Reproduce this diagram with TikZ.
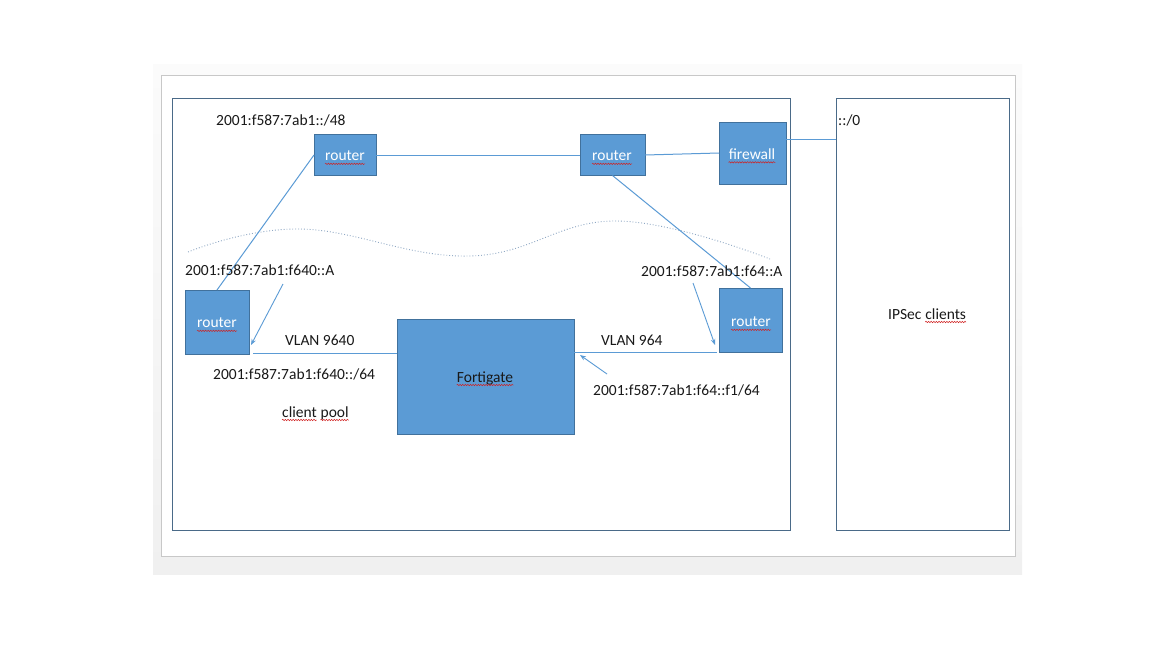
\documentclass[tikz,border=0pt]{standalone}
\usepackage{fontspec}
\setmainfont{Carlito}
\usetikzlibrary{arrows.meta,decorations.pathmorphing}
\definecolor{boxfill}{HTML}{5B9BD5}
\definecolor{boxedge}{HTML}{41719C}
\definecolor{frameedge}{HTML}{4A6A88}
\definecolor{pageedge}{HTML}{C8C8C8}
\definecolor{bggrey}{HTML}{F0F0F0}
\definecolor{bgtop}{HTML}{FBFBFB}
\definecolor{wavecol}{HTML}{8FA8C4}
\definecolor{squigcol}{HTML}{D02020}
\tikzset{
  devbox/.style={draw=boxedge, fill=boxfill, line width=0.9pt, inner sep=0pt, outer sep=0pt},
  framebox/.style={draw=frameedge, line width=1pt, inner sep=0pt, outer sep=0pt},
  conn/.style={draw=boxfill, line width=1pt},
  arr/.style={draw=boxfill, line width=0.9pt, -{Stealth[length=6pt,width=4.5pt]}},
  lbl/.style={font=\fontsize{15.5}{18}\selectfont, text=black!90, inner sep=0pt},
  wlbl/.style={font=\fontsize{15.5}{18}\selectfont, text=white, inner sep=0pt},
  squig/.style={draw=squigcol, line width=0.5pt, decorate, decoration={snake, amplitude=0.7pt, segment length=2.6pt}},
}
\newcommand{\squigunder}[1]{\draw[squig] ([yshift=-3pt]#1.base west) -- ([yshift=-3pt]#1.base east);}
\begin{document}
\begin{tikzpicture}[x=1pt,y=-1pt]
\useasboundingbox (0,0) rectangle (1152,648);
\fill[white] (0,0) rectangle (1152,648);
% background and page
\shade[top color=bgtop, bottom color=bggrey] (153,64) rectangle (1022,574);
\draw[pageedge, fill=white, line width=1pt] (161.5,75.5) rectangle (1015.5,556.5);
% frames
\node[framebox, minimum width=618pt, minimum height=432pt] (lframe) at (481,314) {};
\node[framebox, minimum width=173pt, minimum height=432pt] (rframe) at (922.5,314) {};
% devices
\node[devbox, minimum width=62pt, minimum height=41pt] (r1) at (345,155) {};
\node[devbox, minimum width=65pt, minimum height=41pt] (r2) at (612.5,155) {};
\node[devbox, minimum width=67pt, minimum height=62pt] (fw) at (752.5,153) {};
\node[devbox, minimum width=64pt, minimum height=64pt] (rl) at (217,322) {};
\node[devbox, minimum width=63pt, minimum height=64pt] (rr) at (750.5,320) {};
\node[devbox, minimum width=177pt, minimum height=115pt] (fg) at (485.5,376.5) {};
% device labels
\node[wlbl] (r1t) at (345,156) {router};
\node[wlbl] (r2t) at (612,156) {router};
\node[wlbl] (fwt) at (752,154) {firewall};
\node[wlbl] (rlt) at (217,323) {router};
\node[wlbl] (rrt) at (751,322) {router};
\node[lbl] (fgt) at (485,378) {Fortigate};
% wavy dotted boundary
\draw[wavecol, dotted, line width=0.9pt] plot[smooth, tension=0.7] coordinates {(188,252) (300,229) (470,256) (617,221) (770,259)};
% connectors
\draw[conn] (r1.east) -- (r2.west);
\draw[conn] (r2.east) -- (fw.west);
\draw[conn] (fw.east |- 0,139) -- (rframe.west |- 0,139);
\draw[conn] (r1.west) -- (rl.north);
\draw[conn] (r2.south) -- (rr.north);
\coordinate (v1end) at (253,353);
\coordinate (v2end) at (717,352);
\draw[conn] (fg.west |- v1end) -- (v1end);
\draw[conn] (fg.east |- v2end) -- (v2end);
% text labels
\node[lbl, anchor=west] (p48) at (216,120) {2001:f587:7ab1::/48};
\node[lbl, anchor=west] (a640) at (185,270) {2001:f587:7ab1:f640::A};
\node[lbl, anchor=west] (a64) at (641,271) {2001:f587:7ab1:f64::A};
\node[lbl, anchor=west] (vl1) at (285,340) {VLAN 9640};
\node[lbl, anchor=west] (vl2) at (601,340) {VLAN 964};
\node[lbl, anchor=west] (p640) at (213,374) {2001:f587:7ab1:f640::/64};
\node[lbl, anchor=base west] (cp1) at (282,417) {client};
\node[lbl, anchor=base west] (cp2) at ([xshift=3.5pt]cp1.base east) {pool};
\node[lbl, anchor=west] (f1) at (593,390) {2001:f587:7ab1:f64::f1/64};
\node[lbl, anchor=west] (def) at (838,120) {::/0};
\node[lbl, anchor=base west] (ips) at (888,319) {IPSec};
\node[lbl, anchor=base west] (ipc) at ([xshift=3.5pt]ips.base east) {clients};
% arrows
\coordinate (a1s) at (283,284);
\coordinate (a1e) at (251,345);
\coordinate (a2s) at (693,283);
\coordinate (a2e) at (715,345);
\coordinate (a3s) at (607,374);
\coordinate (a3e) at (580,355);
\draw[arr] (a1s) -- (a1e);
\draw[arr] (a2s) -- (a2e);
\draw[arr] (a3s) -- (a3e);
% spell-check squiggles
\squigunder{r1t}
\squigunder{r2t}
\squigunder{fwt}
\squigunder{rlt}
\squigunder{rrt}
\squigunder{fgt}
\squigunder{cp1}
\squigunder{cp2}
\squigunder{ipc}
\end{tikzpicture}
\end{document}
